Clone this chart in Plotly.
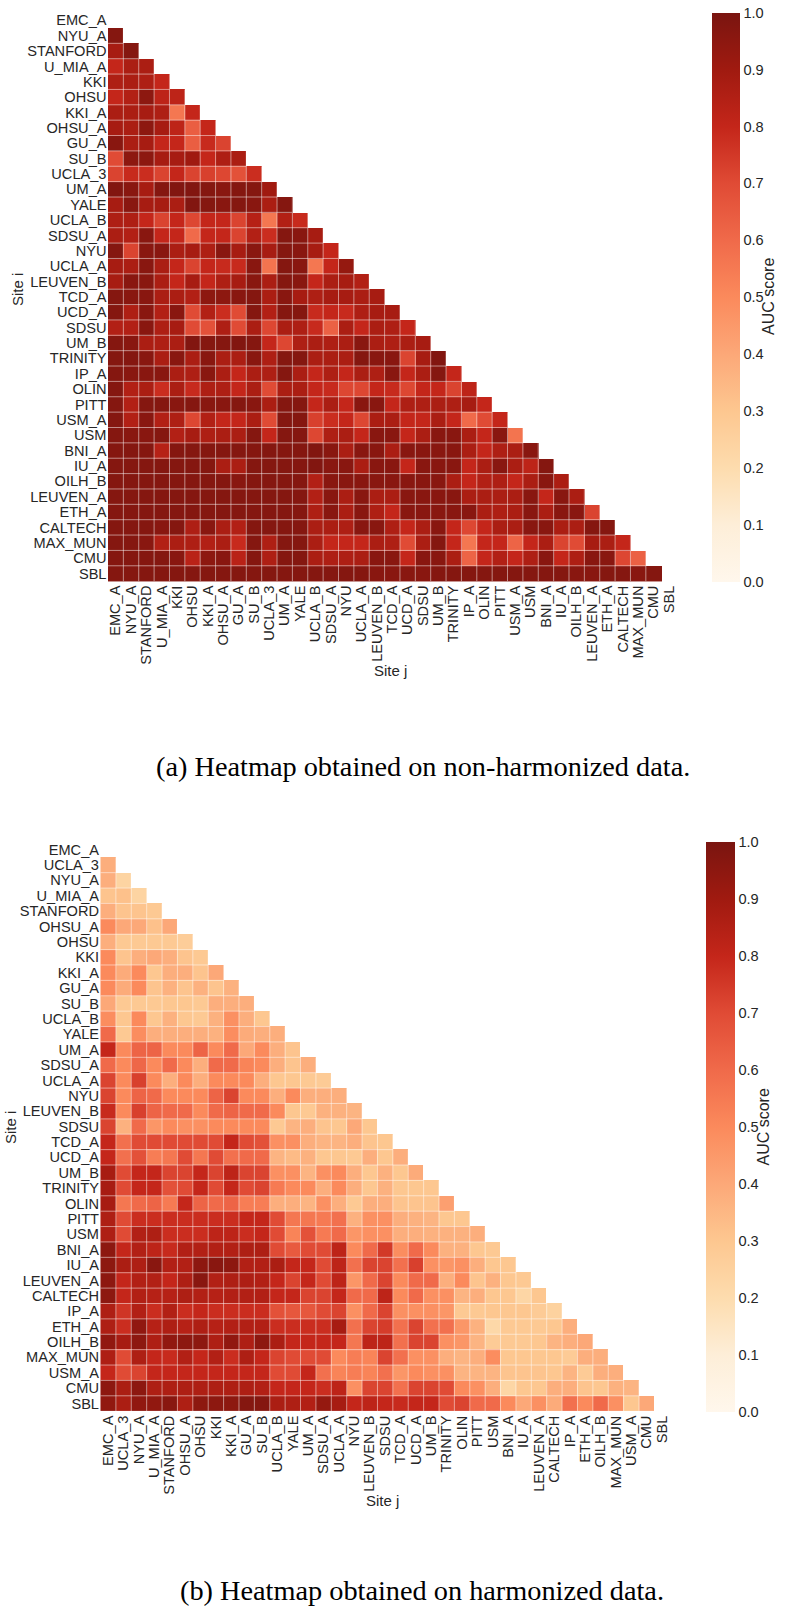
import plotly.graph_objects as go

sites_raw = ["EMC_A", "NYU_A", "STANFORD", "U_MIA_A", "KKI", "OHSU", "KKI_A", "OHSU_A", "GU_A", "SU_B",
             "UCLA_3", "UM_A", "YALE", "UCLA_B", "SDSU_A", "NYU", "UCLA_A", "LEUVEN_B", "TCD_A", "UCD_A",
             "SDSU", "UM_B", "TRINITY", "IP_A", "OLIN", "PITT", "USM_A", "USM", "BNI_A", "IU_A",
             "OILH_B", "LEUVEN_A", "ETH_A", "CALTECH", "MAX_MUN", "CMU", "SBL"]

sites_harm = ["EMC_A", "UCLA_3", "NYU_A", "U_MIA_A", "STANFORD", "OHSU_A", "OHSU", "KKI", "KKI_A", "GU_A",
              "SU_B", "UCLA_B", "YALE", "UM_A", "SDSU_A", "UCLA_A", "NYU", "LEUVEN_B", "SDSU", "TCD_A",
              "UCD_A", "UM_B", "TRINITY", "OLIN", "PITT", "USM", "BNI_A", "IU_A", "LEUVEN_A", "CALTECH",
              "IP_A", "ETH_A", "OILH_B", "MAX_MUN", "USM_A", "CMU", "SBL"]

# lower triangle only, row k has k cells (first site has none)
auc_raw = [
    [],
    [.97],
    [.88, .97],
    [.80, .87, .87],
    [.86, .87, .86, .80],
    [.80, .85, .95, .82, .82],
    [.87, .87, .88, .86, .56, .80],
    [.88, .87, .95, .88, .82, .64, .80],
    [.96, .87, .88, .80, .80, .64, .79, .72],
    [.70, .95, .95, .88, .88, .90, .80, .86, .87],
    [.72, .79, .78, .72, .80, .72, .73, .71, .68, .78],
    [.98, .96, .88, .97, .98, .98, .97, .96, .97, .97, .90],
    [.88, .96, .88, .88, .87, .98, .97, .96, .97, .96, .87, .97],
    [.86, .86, .80, .72, .80, .71, .80, .80, .72, .84, .56, .85, .79],
    [.87, .85, .96, .80, .80, .60, .80, .80, .72, .85, .78, .97, .96, .88],
    [.97, .72, .96, .96, .87, .88, .86, .96, .88, .96, .88, .97, .96, .88, .80],
    [.88, .87, .96, .87, .80, .72, .80, .79, .79, .96, .57, .97, .96, .56, .80, .93],
    [.88, .96, .96, .87, .80, .88, .80, .86, .88, .96, .87, .97, .96, .80, .87, .88, .85],
    [.97, .96, .96, .87, .87, .85, .95, .95, .96, .97, .87, .96, .88, .86, .88, .88, .87, .88],
    [.97, .86, .96, .85, .96, .70, .85, .78, .70, .97, .85, .97, .97, .79, .80, .79, .86, .88, .88],
    [.85, .85, .96, .86, .88, .70, .68, .86, .70, .87, .71, .87, .86, .79, .63, .87, .80, .87, .86, .80],
    [.97, .96, .87, .86, .87, .98, .97, .97, .98, .97, .80, .71, .86, .87, .86, .87, .96, .87, .86, .87, .88],
    [.97, .97, .96, .87, .96, .87, .96, .87, .87, .96, .86, .97, .97, .87, .87, .87, .97, .96, .96, .72, .88, .98],
    [.97, .96, .96, .96, .87, .86, .96, .87, .80, .87, .86, .97, .87, .80, .86, .80, .87, .86, .96, .80, .87, .97, .80],
    [.97, .85, .87, .78, .87, .79, .86, .86, .80, .87, .70, .87, .87, .80, .79, .71, .71, .80, .79, .71, .80, .80, .72, .82],
    [.97, .85, .97, .97, .96, .97, .96, .96, .97, .96, .87, .97, .97, .80, .87, .80, .96, .96, .80, .86, .86, .87, .86, .88, .80],
    [.97, .85, .96, .85, .86, .71, .85, .80, .80, .87, .70, .97, .97, .73, .78, .80, .71, .87, .87, .80, .80, .87, .80, .60, .70, .80],
    [.97, .96, .96, .97, .85, .88, .86, .87, .87, .97, .80, .97, .97, .71, .86, .87, .80, .96, .96, .80, .87, .96, .96, .87, .80, .96, .57],
    [.97, .97, .97, .84, .97, .97, .97, .97, .97, .97, .97, .97, .97, .98, .96, .87, .96, .96, .87, .96, .96, .96, .96, .87, .80, .86, .87, .96],
    [.97, .97, .97, .97, .97, .97, .97, .87, .87, .97, .97, .97, .97, .98, .96, .96, .87, .96, .96, .80, .96, .96, .96, .80, .87, .96, .87, .82, .97],
    [.97, .97, .97, .97, .97, .97, .97, .97, .96, .97, .97, .97, .97, .85, .96, .96, .96, .96, .96, .96, .96, .96, .87, .80, .85, .86, .80, .87, .96, .87],
    [.97, .97, .97, .97, .97, .97, .97, .97, .97, .97, .97, .97, .97, .85, .96, .87, .96, .87, .87, .96, .96, .96, .96, .87, .87, .87, .87, .96, .80, .96, .87],
    [.97, .97, .97, .97, .97, .97, .97, .97, .97, .97, .97, .97, .97, .86, .96, .87, .96, .86, .80, .96, .96, .96, .96, .96, .87, .86, .87, .96, .87, .96, .96, .72],
    [.97, .97, .97, .96, .97, .86, .96, .87, .85, .97, .97, .97, .97, .87, .87, .86, .96, .96, .86, .80, .87, .96, .80, .71, .80, .87, .87, .96, .96, .87, .87, .97, .97],
    [.97, .97, .96, .85, .87, .86, .85, .87, .79, .97, .86, .97, .97, .87, .80, .80, .80, .87, .86, .70, .87, .97, .80, .56, .80, .80, .62, .80, .87, .72, .70, .88, .87, .80],
    [.97, .97, .97, .97, .96, .83, .95, .96, .83, .97, .86, .97, .97, .87, .86, .86, .87, .96, .96, .80, .96, .96, .87, .62, .80, .85, .80, .86, .96, .80, .86, .96, .96, .71, .63],
    [.97, .97, .97, .97, .97, .97, .97, .97, .97, .97, .97, .97, .97, .97, .97, .97, .97, .96, .96, .96, .96, .97, .97, .97, .97, .97, .97, .97, .97, .97, .96, .96, .97, .97, .96, .97],
]

auc_harm = [
    [],
    [.38],
    [.38, .24],
    [.31, .32, .24],
    [.38, .31, .31, .29],
    [.50, .40, .40, .32, .40],
    [.38, .29, .29, .29, .29, .27],
    [.50, .31, .38, .40, .38, .31, .29],
    [.50, .39, .50, .30, .38, .38, .31, .40],
    [.50, .39, .50, .31, .37, .31, .37, .31, .37],
    [.40, .29, .29, .29, .30, .30, .29, .38, .38, .38],
    [.49, .30, .50, .30, .37, .30, .29, .37, .48, .38, .30],
    [.60, .29, .49, .38, .38, .38, .38, .37, .49, .39, .38, .38],
    [.80, .50, .62, .62, .50, .50, .62, .50, .60, .40, .50, .38, .31],
    [.60, .50, .61, .50, .60, .50, .38, .60, .60, .52, .50, .38, .31, .38],
    [.72, .50, .73, .50, .38, .50, .38, .50, .50, .50, .38, .30, .30, .29, .28],
    [.72, .50, .62, .60, .50, .50, .50, .62, .72, .50, .50, .38, .50, .38, .38, .38],
    [.79, .50, .73, .62, .60, .60, .50, .60, .62, .60, .60, .50, .30, .29, .37, .37, .36],
    [.72, .37, .60, .46, .50, .48, .48, .50, .50, .50, .50, .29, .36, .38, .31, .30, .40, .30],
    [.80, .58, .70, .70, .70, .70, .70, .70, .80, .70, .68, .48, .48, .38, .36, .36, .38, .31, .30],
    [.80, .58, .68, .54, .56, .70, .56, .70, .58, .60, .60, .36, .34, .37, .30, .30, .29, .38, .30, .38],
    [.88, .70, .80, .80, .72, .72, .80, .72, .82, .72, .72, .48, .48, .36, .48, .50, .38, .30, .37, .30, .39],
    [.88, .70, .80, .80, .68, .70, .80, .70, .80, .70, .72, .55, .50, .50, .38, .50, .38, .30, .37, .30, .30, .30],
    [.88, .56, .60, .62, .55, .80, .62, .60, .62, .54, .54, .38, .38, .36, .48, .38, .29, .38, .38, .31, .31, .31, .43],
    [.86, .70, .78, .78, .78, .78, .78, .78, .78, .80, .80, .70, .56, .56, .55, .58, .37, .48, .48, .38, .37, .36, .30, .30],
    [.86, .70, .85, .86, .78, .78, .78, .82, .82, .78, .80, .70, .52, .68, .55, .60, .46, .48, .48, .38, .38, .37, .37, .37, .38],
    [.95, .80, .85, .82, .79, .85, .85, .85, .85, .86, .86, .70, .65, .70, .70, .82, .50, .60, .75, .49, .60, .50, .37, .37, .30, .29],
    [.95, .87, .86, .96, .85, .85, .95, .96, .95, .85, .85, .87, .80, .80, .70, .82, .58, .72, .72, .58, .73, .48, .46, .48, .38, .30, .30],
    [.95, .80, .85, .85, .80, .86, .96, .85, .86, .86, .85, .80, .72, .80, .70, .82, .46, .60, .72, .50, .60, .60, .38, .50, .31, .37, .30, .29],
    [.95, .80, .85, .84, .84, .86, .85, .84, .85, .85, .85, .80, .80, .72, .72, .80, .60, .60, .82, .50, .60, .48, .48, .36, .38, .30, .30, .23, .30],
    [.86, .76, .85, .78, .85, .78, .80, .78, .78, .78, .78, .68, .66, .66, .70, .72, .48, .60, .72, .48, .48, .48, .46, .29, .29, .30, .30, .30, .28, .25],
    [.86, .78, .94, .84, .86, .84, .86, .84, .85, .85, .85, .78, .78, .78, .78, .88, .58, .72, .74, .58, .72, .58, .58, .46, .37, .22, .29, .29, .29, .30, .38],
    [.94, .88, .95, .86, .94, .95, .95, .86, .94, .86, .95, .87, .80, .80, .80, .80, .56, .82, .82, .58, .72, .72, .48, .46, .36, .28, .29, .29, .30, .36, .38, .40],
    [.86, .70, .86, .80, .79, .85, .80, .85, .78, .86, .80, .72, .70, .70, .70, .50, .54, .52, .72, .58, .48, .48, .38, .36, .38, .49, .30, .30, .30, .30, .28, .38, .38],
    [.80, .70, .72, .80, .80, .80, .80, .80, .80, .80, .80, .70, .70, .80, .58, .52, .54, .52, .58, .46, .50, .48, .48, .36, .36, .36, .31, .31, .31, .30, .36, .28, .38, .38],
    [.95, .87, .95, .86, .86, .86, .86, .86, .86, .86, .85, .80, .80, .80, .78, .82, .48, .72, .72, .58, .72, .72, .70, .50, .48, .38, .23, .30, .30, .38, .38, .31, .30, .37, .36],
    [.94, .87, .94, .94, .96, .86, .95, .95, .95, .97, .97, .87, .86, .85, .93, .88, .80, .82, .80, .79, .80, .80, .70, .72, .60, .60, .50, .40, .48, .39, .58, .50, .60, .48, .30, .40],
]

ticks = [0.0, 0.1, 0.2, 0.3, 0.4, 0.5, 0.6, 0.7, 0.8, 0.9, 1.0]

colorscale = [
    [0.0, "#fff7ec"], [0.1, "#fdeed8"], [0.2, "#fddcae"], [0.3, "#fdc790"], [0.4, "#fca878"], [0.5, "#fb8a5c"],
    [0.6, "#f06a4a"], [0.7, "#e04b35"], [0.8, "#c4261a"], [0.9, "#a01a10"], [1.0, "#7a1510"],
]

W, H = 787, 1607
TEXT = "#262626"
LABEL_SIZE = 14.6
GRID = "rgba(255,255,255,0.5)"


def pad_rows(rows):
    n = len(rows)
    return [r + [None] * (n - len(r)) for r in rows]


fig = go.Figure()


def add_panel(rows, sites, xa, ya, left, top, cell, bar_left, bar_width):
    # one heatmap plus its colorbar, pixel positions converted to paper fractions
    n = len(sites)
    right = left + cell * n
    bottom = top + cell * n
    fig.add_trace(go.Heatmap(
        z=pad_rows(rows), x=sites, y=sites, xaxis=xa, yaxis=ya,
        zmin=0, zmax=1, colorscale=colorscale, hoverongaps=False,
        colorbar=dict(
            x=bar_left / W, xanchor="left", thickness=bar_width, xpad=0, ypad=0,
            y=1 - top / H, yanchor="top", len=cell * n / H, lenmode="fraction",
            tickvals=ticks, ticktext=[f"{t:.1f}" for t in ticks], ticks="", outlinewidth=0,
            tickfont=dict(family="Liberation Sans", size=LABEL_SIZE, color=TEXT),
        ),
    ))
    axis_name = xa.replace("x", "xaxis")
    yaxis_name = ya.replace("y", "yaxis")
    fig.update_layout({
        axis_name: dict(domain=[left / W, right / W], anchor=ya, type="category", tickangle=-90,
                        tickmode="array", tickvals=sites, showgrid=False, zeroline=False, ticks="",
                        tickfont=dict(family="Liberation Sans", size=LABEL_SIZE, color=TEXT)),
        yaxis_name: dict(domain=[1 - bottom / H, 1 - top / H], anchor=xa, type="category",
                         autorange="reversed", tickmode="array", tickvals=sites,
                         showgrid=False, zeroline=False, ticks="",
                         tickfont=dict(family="Liberation Sans", size=LABEL_SIZE, color=TEXT)),
    })
    # thin see-through lines between cells, kept inside the triangle
    for k in range(1, n - 1):
        fig.add_shape(type="line", xref=xa, yref=ya, x0=k - 0.5, x1=k - 0.5, y0=k - 0.5, y1=n - 0.5,
                      line=dict(color=GRID, width=1), layer="above")
        fig.add_shape(type="line", xref=xa, yref=ya, x0=-0.5, x1=k + 0.5 - 1, y0=k + 0.5, y1=k + 0.5,
                      line=dict(color=GRID, width=1), layer="above")


add_panel(auc_raw, sites_raw, "x", "y", 107.5, 12.6, 15.38, 712, 27.5)
add_panel(auc_harm, sites_harm, "x2", "y2", 100, 841.9, 15.4, 705.5, 28.5)


def note(text, x, y, size, angle=0, family="Liberation Sans", color=TEXT):
    fig.add_annotation(text=text, x=x / W, y=1 - y / H, xref="paper", yref="paper", showarrow=False,
                       textangle=angle, xanchor="center", yanchor="middle",
                       font=dict(family=family, size=size, color=color))


note("Site i", 17, 290, 15, -90)
note("Site j", 390, 670, 15)
note("AUC score", 768, 297, 16, -90)
note("Site i", 10, 1128, 15, -90)
note("Site j", 382, 1500, 15)
note("AUC score", 763, 1127.5, 16, -90)
note("(a) Heatmap obtained on non-harmonized data.", 423, 767, 28.3, family="Liberation Serif", color="#000000")
note("(b) Heatmap obtained on harmonized data.", 422, 1590, 28.3, family="Liberation Serif", color="#000000")

fig.update_layout(width=W, height=H, margin=dict(l=0, r=0, t=0, b=0), plot_bgcolor="white",
                  paper_bgcolor="white")
fig.write_html("out.html", config={"displayModeBar": False},
               post_script="document.body.style.margin='0';")
